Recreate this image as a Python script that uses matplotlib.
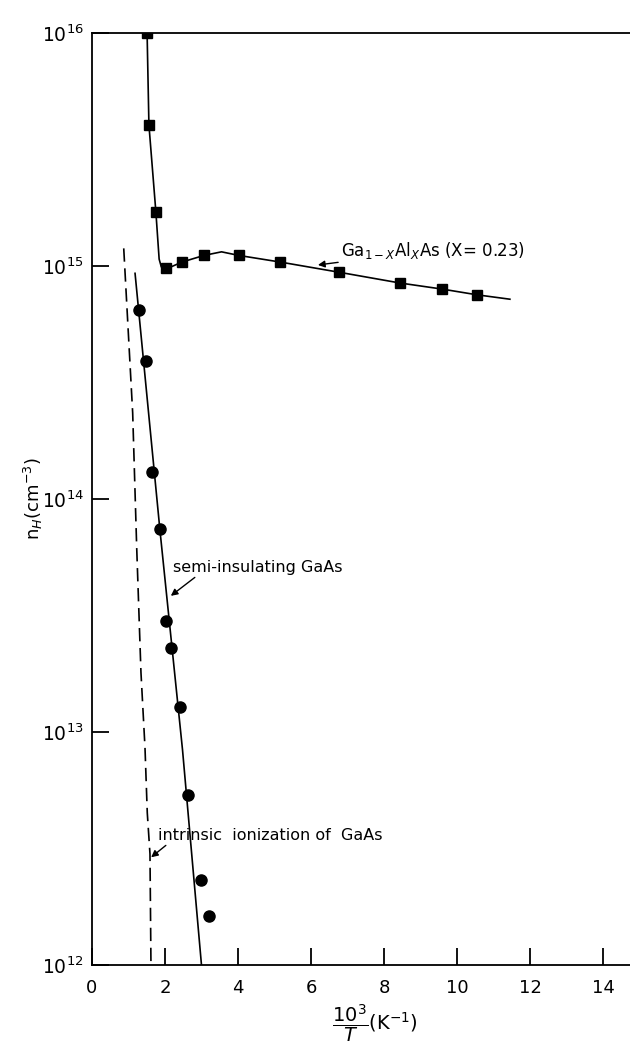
import numpy as np
import matplotlib.pyplot as plt

# ── DATA ────────────────────────────────────────────────────────────────────
# Ga(1-x)Al(x)As, x = 0.23 : measured points
alas_x = [1.51, 1.56, 1.75, 2.03, 2.47, 3.07, 4.02, 5.15, 6.77, 8.44, 9.59, 10.55]
alas_n = [1.0e16, 4.03e15, 1.71e15, 9.8e14, 1.04e15, 1.11e15, 1.11e15, 1.04e15,
          9.4e14, 8.45e14, 7.96e14, 7.52e14]
# hand-drawn curve through them
alas_fit_x = [1.51, 1.56, 1.75, 1.84, 1.90, 2.03, 2.47, 3.07, 3.55, 4.02, 5.15,
              6.77, 8.44, 9.59, 10.55, 11.45]
alas_fit_n = [1.0e16, 4.03e15, 1.71e15, 1.07e15, 9.9e14, 9.7e14, 1.04e15, 1.11e15,
              1.15e15, 1.11e15, 1.04e15, 9.4e14, 8.45e14, 7.96e14, 7.52e14, 7.2e14]

# semi-insulating GaAs : measured points
si_x = [1.29, 1.48, 1.65, 1.86, 2.03, 2.16, 2.42, 2.64, 2.99, 3.21]
si_n = [6.47e14, 3.91e14, 1.31e14, 7.43e13, 2.99e13, 2.30e13, 1.28e13, 5.37e12,
        2.32e12, 1.62e12]
si_fit_x = [1.18, 1.86, 2.48, 3.00]
si_fit_n = [9.3e14, 7.4e13, 8.4e12, 1.0e12]

# intrinsic ionization of GaAs (dashed)
intr_x = [0.87, 1.115, 1.225, 1.342, 1.452, 1.515, 1.589, 1.616]
intr_n = [1.19e15, 2.34e14, 6.2e13, 1.8e13, 8.6e12, 4.5e12, 3.0e12, 1.0e12]

x_ticks = [0, 2, 4, 6, 8, 10, 12, 14]
y_ticks = [1e12, 1e13, 1e14, 1e15, 1e16]
y_tick_labels = [r'$10^{12}$', r'$10^{13}$', r'$10^{14}$', r'$10^{15}$', r'$10^{16}$']

# ── PLOT ────────────────────────────────────────────────────────────────────
plt.rcParams['font.family'] = ['DejaVu Sans']
plt.rcParams['mathtext.fontset'] = 'dejavusans'

fig = plt.figure(figsize=(6.3, 10.46), dpi=100)
ax = fig.add_axes([0.146, 0.0774, 0.854, 0.8911])

ax.set_yscale('log')
ax.set_xlim(0, 14.74)
ax.set_ylim(1e12, 1e16)

ax.plot(alas_fit_x, alas_fit_n, color='black', linewidth=1.2)
ax.plot(alas_x, alas_n, linestyle='none', marker='s', markersize=6.5, color='black')

ax.plot(si_fit_x, si_fit_n, color='black', linewidth=1.2)
ax.plot(si_x, si_n, linestyle='none', marker='o', markersize=8, color='black')

ax.plot(intr_x, intr_n, color='black', linewidth=1.2, dashes=(8, 4))

# annotations
ax.annotate(r'Ga$_{1-X}$Al$_X$As (X= 0.23)', xy=(6.19, 1.01e15), xytext=(6.82, 1.17e15),
            fontsize=12, va='center', ha='left',
            arrowprops=dict(arrowstyle='-|>', color='black', lw=1.0,
                            mutation_scale=10, shrinkA=0, shrinkB=0))
ax.annotate('semi-insulating GaAs', xy=(2.16, 3.84e13), xytext=(2.22, 5.1e13),
            fontsize=11.5, va='center', ha='left',
            arrowprops=dict(arrowstyle='-|>', color='black', lw=1.0,
                            mutation_scale=10, shrinkA=0, shrinkB=0,
                            relpos=(0.15, 0.0)))
ax.annotate('intrinsic  ionization of  GaAs', xy=(1.62, 2.9e12), xytext=(1.81, 3.61e12),
            fontsize=11.5, va='center', ha='left',
            arrowprops=dict(arrowstyle='-|>', color='black', lw=1.0,
                            mutation_scale=10, shrinkA=0, shrinkB=0,
                            relpos=(0.05, 0.0)))

# axes styling
ax.spines['right'].set_visible(False)
for s in ['left', 'bottom', 'top']:
    ax.spines[s].set_linewidth(1.3)

ax.set_xticks(x_ticks)
ax.set_xticklabels([str(t) for t in x_ticks], fontsize=13)
ax.set_yticks(y_ticks)
ax.set_yticklabels(y_tick_labels, fontsize=13.5)
ax.yaxis.set_minor_locator(plt.NullLocator())
ax.tick_params(axis='both', direction='in', length=12, width=1.3, pad=6)
ax.tick_params(axis='x', top=False, pad=10)

ax.set_xlabel(r'$\dfrac{10^3}{T}$(K$^{-1}$)', fontsize=14)
ax.xaxis.set_label_coords(0.526, -0.04)
ax.set_ylabel(r'n$_H$(cm$^{-3}$)', fontsize=13)
ax.yaxis.set_label_coords(-0.087, 0.5)

plt.savefig('out.png', dpi=100)
